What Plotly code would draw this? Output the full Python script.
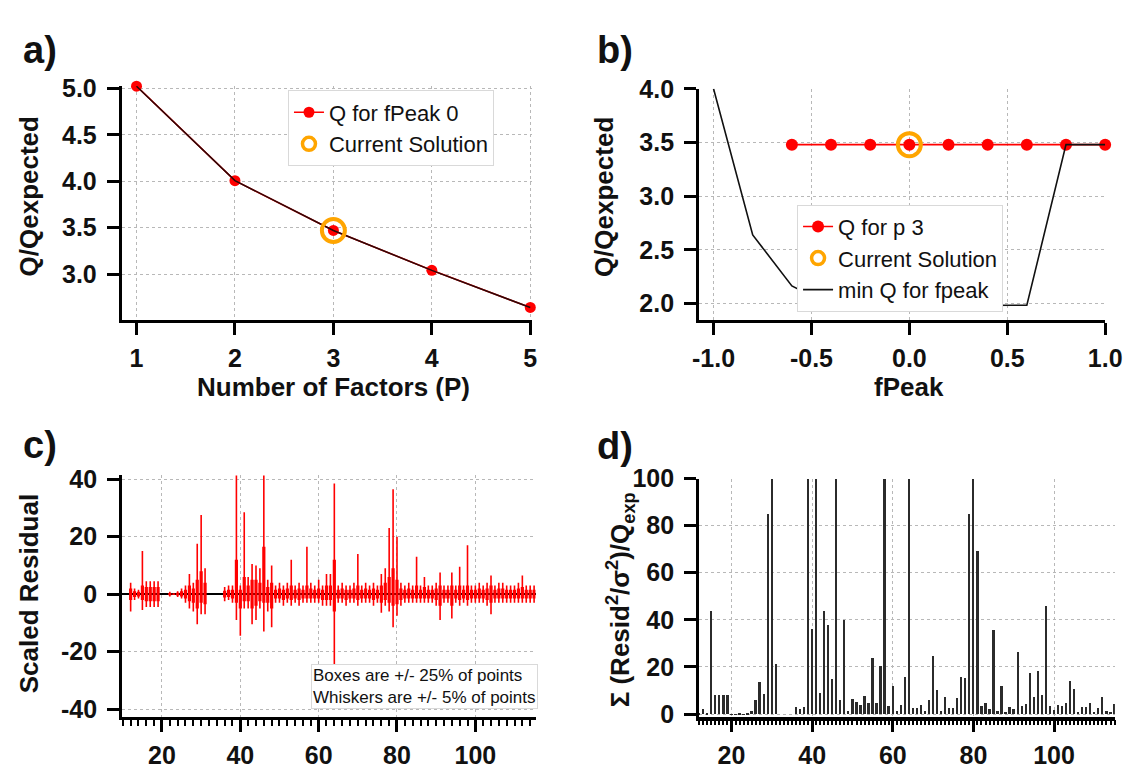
import plotly.graph_objects as go

# ---------------- data ----------------
# panel a
factors = [1, 2, 3, 4, 5]
q_factors = [5.025, 4.007, 3.47, 3.04, 2.64]
cur_a_x = [3]
cur_a_y = [3.47]

# panel b
fpeak = [-0.6, -0.4, -0.2, 0.0, 0.2, 0.4, 0.6, 0.8, 1.0]
q_fpeak = [3.48, 3.48, 3.48, 3.48, 3.48, 3.48, 3.48, 3.48, 3.48]
cur_b_x = [0.0]
cur_b_y = [3.48]
minq_x = [-1.0, -0.8, -0.6, -0.4, -0.2, 0.0, 0.2, 0.4, 0.6, 0.8, 1.0]
minq_y = [4.0, 2.64, 2.165, 1.98, 1.98, 1.98, 1.98, 1.98, 1.985, 3.48, 3.48]

# panel c  (scaled residual per m/z: whisker extremes and box limits)
mz_c = [12, 13, 14, 15, 16, 17, 18, 19, 22, 23, 24, 25, 26, 27, 28, 29, 30, 31,
        36, 37, 38, 39, 40, 41, 42, 43, 44, 45, 46, 47, 48, 49, 50, 51, 52, 53,
        54, 55, 56, 57, 58, 59, 60, 61, 62, 63, 64, 65, 66, 67, 68, 69, 70, 71,
        72, 73, 74, 75, 76, 77, 78, 79, 80, 81, 82, 83, 84, 85, 86, 87, 88, 89,
        90, 91, 92, 93, 94, 95, 96, 97, 98, 99, 100, 101, 102, 103, 104, 105,
        106, 107, 108, 109, 110, 111, 112, 113, 114, 115]
res_hi = [4, 2, 1.5, 15, 4.5, 4.5, 4.5, 4.5, 0.8, 0.3, 1, 2, 3, 7, 4, 17.5, 27.5, 9,
          2.5, 3, 3, 41.5, 3, 28.5, 6, 10.5, 10, 9, 41.5, 5, 10, 3, 4, 3, 4, 12,
          3, 4, 3, 16.5, 4, 3, 5, 3, 7, 7, 38.5, 3, 4, 3, 3, 4, 14, 3,
          4, 3, 4, 3, 7, 9, 23, 36.5, 20, 4, 3, 4, 3, 13, 3, 6, 3, 3,
          4, 7.5, 3, 3, 7.5, 3, 9.5, 3, 17, 3, 3, 4, 3, 4, 6.5, 3,
          4, 4, 3, 3, 3, 4, 6.5, 3, 3, 3]
res_lo = [-6, -2, -1.5, -5.5, -4.5, -4.5, -4.5, -4.5, -0.8, -0.3, -1, -1.5, -3, -5, -6, -10.5, -7, -7,
          -2.5, -2, -3, -9, -14.5, -5, -5, -10.5, -9, -5, -13, -6, -11.5, -3, -3, -4, -3, -4,
          -3, -4, -3, -3, -3, -3, -3, -4, -4, -4, -25, -3, -3, -4, -3, -3, -4, -3,
          -3, -3, -4, -3, -6.5, -4, -6, -11.5, -7.5, -4, -3, -3, -3, -3, -3, -3, -3, -3,
          -4, -9, -3, -3, -8.5, -3, -4, -3, -4, -3, -3, -3, -3, -4, -7, -3,
          -3, -3, -3, -3, -3, -3, -3, -3, -3, -3]
box_hi = [2, 1, 0.8, 3, 2.5, 2.5, 2.5, 2.5, 0.4, 0.2, 0.5, 1, 1.5, 3, 2, 5, 8, 4,
          1.2, 1.5, 1.5, 12, 1.5, 6, 3, 5, 5, 4, 16.5, 2.5, 4, 1.5, 2, 1.5, 2, 3,
          1.5, 2, 1.5, 3, 2, 1.5, 2, 1.5, 3, 3, 12, 1.5, 2, 1.5, 1.5, 2, 3, 1.5,
          2, 1.5, 2, 1.5, 3, 4, 6, 9, 5, 2, 1.5, 2, 1.5, 3, 1.5, 2.5, 1.5, 1.5,
          2, 3, 1.5, 1.5, 3, 1.5, 3, 1.5, 3, 1.5, 1.5, 2, 1.5, 2, 3, 1.5,
          2, 2, 1.5, 1.5, 1.5, 2, 2.5, 1.5, 1.5, 1.5]
box_lo = [-2, -1, -0.8, -2, -2.5, -2.5, -2.5, -2.5, -0.4, -0.2, -0.5, -0.8, -1.5, -2.5, -3, -5, -3, -3.5,
          -1.2, -1, -1.5, -3, -5, -2.5, -2.5, -5, -4, -2.5, -3, -3, -5, -1.5, -1.5, -2, -1.5, -2,
          -1.5, -2, -1.5, -1.5, -1.5, -1.5, -1.5, -2, -2, -2, -6, -1.5, -1.5, -2, -1.5, -1.5, -2, -1.5,
          -1.5, -1.5, -2, -1.5, -3, -2, -3, -4, -3.5, -2, -1.5, -1.5, -1.5, -1.5, -1.5, -1.5, -1.5, -1.5,
          -2, -4, -1.5, -1.5, -4, -1.5, -2, -1.5, -2, -1.5, -1.5, -1.5, -1.5, -2, -3, -1.5,
          -1.5, -1.5, -1.5, -1.5, -1.5, -1.5, -1.5, -1.5, -1.5, -1.5]

# panel d  (sum of squared scaled residuals / Qexp per m/z, display clipped at 100)
mz_d = list(range(12, 116))
qcontrib = [0.3, 2.3, 0.3, 44, 8.3, 8.3, 8.3, 8.3, 0.2, 0.2, 0.3, 0.2, 0.5, 1.5, 6, 14,
            8.5, 85, 100, 21.5, 0, 0, 0, 0, 3, 2.5, 3, 100, 36.5, 100, 9, 44,
            38, 15, 100, 6, 40, 1.5, 6.5, 5.5, 4, 8, 5, 24, 4.8, 20.8, 100, 3.4,
            12, 1.4, 4, 15.8, 100, 2.7, 2.7, 4, 1.4, 6, 24.7, 10.3, 1.4, 7.4, 2.7, 2.7,
            6.8, 15.8, 15.5, 85.3, 100, 69.5, 3.4, 4.7, 2.3, 35.9, 1.6, 12.3, 1.1, 3.3, 2.3, 26.4,
            3.6, 4.4, 17.8, 7.5, 18.6, 8.2, 45.9, 3.7, 2, 4.1, 3.7, 4.8, 14.4, 11, 1.1, 3.3,
            3.3, 4.8, 1.1, 2.7, 7.3, 1.6, 1.1, 4.4]

# tick labels (hyphen-minus as in the original)
ticks_a_x = [1, 2, 3, 4, 5]
ticks_a_y = [3.0, 3.5, 4.0, 4.5, 5.0]
ticks_b_x = [-1.0, -0.5, 0.0, 0.5, 1.0]
ticks_b_y = [2.0, 2.5, 3.0, 3.5, 4.0]
ticks_cd_x = [20, 40, 60, 80, 100]
ticks_c_y = [-40, -20, 0, 20, 40]
ticks_d_y = [0, 20, 40, 60, 80, 100]

# ---------------- geometry helpers ----------------
W, H = 1143, 776


def px(x):
    return x / W


def py(y):
    return 1 - y / H


def fmt1(v):
    return "%.1f" % v


FONT = "Liberation Sans, Arial, Helvetica, sans-serif"
RED = "#ff0000"
ORANGE = "#ffa500"
GRID = "#b8b8b8"

fig = go.Figure()

# ---- panel a ----
fig.add_trace(go.Scatter(x=factors, y=q_factors, mode="lines+markers", name="Q for fPeak 0",
                         line=dict(color=RED, width=1.6), marker=dict(color=RED, size=11),
                         xaxis="x", yaxis="y", legend="legend", legendrank=1, cliponaxis=False))
fig.add_trace(go.Scatter(x=factors, y=q_factors, mode="lines", showlegend=False,
                         line=dict(color="#2a0808", width=1.5), xaxis="x", yaxis="y"))
fig.add_trace(go.Scatter(x=cur_a_x, y=cur_a_y, mode="markers", showlegend=False,
                         marker=dict(symbol="circle-open", color=ORANGE, size=23,
                                     line=dict(width=4, color=ORANGE)),
                         xaxis="x", yaxis="y", cliponaxis=False))
# legend entry (small symbol like the original legend)
fig.add_trace(go.Scatter(x=[None], y=[None], mode="markers", name="Current Solution",
                         marker=dict(symbol="circle-open", color=ORANGE, size=13,
                                     line=dict(width=3.5, color=ORANGE)),
                         xaxis="x", yaxis="y", legend="legend", legendrank=2))

# ---- panel b ----
fig.add_trace(go.Scatter(x=fpeak, y=q_fpeak, mode="lines+markers", name="Q for p 3",
                         line=dict(color=RED, width=1.6), marker=dict(color=RED, size=12),
                         xaxis="x2", yaxis="y2", legend="legend2", legendrank=1, cliponaxis=False))
fig.add_trace(go.Scatter(x=minq_x, y=minq_y, mode="lines", name="min Q for fpeak",
                         line=dict(color="#111111", width=1.6),
                         xaxis="x2", yaxis="y2", legend="legend2", legendrank=3))
fig.add_trace(go.Scatter(x=cur_b_x, y=cur_b_y, mode="markers", showlegend=False,
                         marker=dict(symbol="circle-open", color=ORANGE, size=23,
                                     line=dict(width=4, color=ORANGE)),
                         xaxis="x2", yaxis="y2", cliponaxis=False))
fig.add_trace(go.Scatter(x=[None], y=[None], mode="markers", name="Current Solution",
                         marker=dict(symbol="circle-open", color=ORANGE, size=13,
                                     line=dict(width=3.5, color=ORANGE)),
                         xaxis="x2", yaxis="y2", legend="legend2", legendrank=2))

# ---- panel c ----
wx, wy, bx, by = [], [], [], []
for m, hi, lo, bh, bl in zip(mz_c, res_hi, res_lo, box_hi, box_lo):
    wx += [m, m, None]
    wy += [lo, hi, None]
    bx += [m, m, None]
    by += [bl, bh, None]
fig.add_trace(go.Scatter(x=wx, y=wy, mode="lines", line=dict(color=RED, width=1.6),
                         showlegend=False, xaxis="x3", yaxis="y3", connectgaps=False))
fig.add_trace(go.Scatter(x=bx, y=by, mode="lines", line=dict(color=RED, width=3.2),
                         showlegend=False, xaxis="x3", yaxis="y3", connectgaps=False))

# ---- panel d ----
fig.add_trace(go.Bar(x=mz_d, y=qcontrib, width=0.45, marker=dict(color="#2b2b2b", line=dict(width=0)),
                     showlegend=False, xaxis="x4", yaxis="y4"))

# ---------------- axes ----------------
common = dict(showline=True, linecolor="black", linewidth=2.5, ticks="outside", ticklen=12,
              tickwidth=2.5, tickcolor="black", showgrid=True, gridcolor=GRID, gridwidth=1.2,
              griddash="dot", zeroline=False, mirror=False, tickmode="array",
              tickfont=dict(family=FONT, size=25, color="#111111", weight="bold"))

layout_axes = dict(
    xaxis=dict(common, domain=[px(117), px(536)], range=[0.848, 5.015], anchor="y",
               tickvals=ticks_a_x, ticktext=[str(v) for v in ticks_a_x], ticklabelstandoff=2),
    yaxis=dict(common, domain=[py(316), py(74.1)], range=[2.507, 5.03], anchor="x",
               tickvals=ticks_a_y, ticktext=[fmt1(v) for v in ticks_a_y], ticklabelstandoff=5),
    xaxis2=dict(common, domain=[px(706.7), px(1121.7)], range=[-1.075, 1.0], anchor="y2",
                tickvals=ticks_b_x, ticktext=[fmt1(v) for v in ticks_b_x], ticklabelstandoff=2),
    yaxis2=dict(common, domain=[py(316.7), py(77.3)], range=[1.843, 4.0], anchor="x2",
                tickvals=ticks_b_y, ticktext=[fmt1(v) for v in ticks_b_y], ticklabelstandoff=5),
    xaxis3=dict(common, domain=[px(117.3), px(540)], range=[9.75, 115.4], anchor="y3",
                tickvals=ticks_cd_x, ticktext=[str(v) for v in ticks_cd_x], ticklabelstandoff=2,
                minor=dict(dtick=2, tick0=0, ticklen=6, tickwidth=2, tickcolor="black",
                           ticks="outside", showgrid=False)),
    yaxis3=dict(common, domain=[py(726.6), py(476.8)], range=[-42.8, 41.3], anchor="x3",
                tickvals=ticks_c_y, ticktext=[str(v) for v in ticks_c_y], ticklabelstandoff=5,
                zeroline=True, zerolinecolor="black", zerolinewidth=2.2),
    xaxis4=dict(common, domain=[px(706.7), px(1131.7)], range=[11.9, 115.1], anchor="y4",
                tickvals=ticks_cd_x, ticktext=[str(v) for v in ticks_cd_x], ticklabelstandoff=2,
                linewidth=3.5,
                minor=dict(dtick=1, tick0=0, ticklen=5, tickwidth=1.5, tickcolor="black",
                           ticks="outside", showgrid=False)),
    yaxis4=dict(common, domain=[py(726), py(480)], range=[-1.1, 100], anchor="x4",
                tickvals=ticks_d_y, ticktext=[str(v) for v in ticks_d_y], ticklabelstandoff=5),
)

legend_style = dict(bgcolor="white", bordercolor="#d9d9d9", borderwidth=1,
                    font=dict(family=FONT, size=22, color="#111111"),
                    xanchor="left", yanchor="top", tracegroupgap=0, itemsizing="trace")

title_font = dict(family=FONT, size=26, color="#111111", weight="bold")
label_font = dict(family=FONT, size=38, color="#111111", weight="bold")

annotations = [
    dict(text="a)", x=px(34), y=py(37)),
    dict(text="b)", x=px(621), y=py(37)),
    dict(text="c)", x=px(34), y=py(445)),
    dict(text="d)", x=px(621), y=py(446)),
]
annotations = [dict(a, xref="paper", yref="paper", showarrow=False, font=label_font,
                    xanchor="center", yanchor="middle") for a in annotations]

titles = [
    dict(text="Number of Factors (P)", x=px(333), y=py(385), textangle=0),
    dict(text="fPeak", x=px(921.7), y=py(385), textangle=0),
    dict(text="Q/Qexpected", x=px(22), y=py(189), textangle=-90),
    dict(text="Q/Qexpected", x=px(610), y=py(189), textangle=-90),
    dict(text="Scaled Residual", x=px(22), y=py(599), textangle=-90),
    dict(text="\u03a3 (Resid<sup>2</sup>/\u03c3<sup>2</sup>)/Q<sub>exp</sub>", x=px(626), y=py(605),
         textangle=-90),
]
annotations += [dict(t, xref="paper", yref="paper", showarrow=False, font=title_font,
                     xanchor="center", yanchor="middle") for t in titles]

annotations.append(dict(text="Boxes are +/- 25% of points<br>Whiskers are +/- 5% of points",
                        xref="paper", yref="paper", x=px(311), y=py(672), xanchor="left",
                        yanchor="top", align="left", showarrow=False,
                        font=dict(family=FONT, size=17, color="#111111"),
                        bgcolor="white", bordercolor="#d9d9d9", borderwidth=1, borderpad=1))

fig.update_layout(
    width=W, height=H, margin=dict(l=0, r=0, t=0, b=0, pad=0),
    plot_bgcolor="white", paper_bgcolor="white",
    font=dict(family=FONT, color="#111111"),
    legend=dict(legend_style, x=px(287), y=py(79)),
    legend2=dict(legend_style, x=px(807), y=py(197)),
    annotations=annotations,
    bargap=0,
    **layout_axes,
)

fig.write_html("out.html", config={"displayModeBar": False},
               post_script="document.body.style.margin='0';document.body.style.overflow='hidden';")
